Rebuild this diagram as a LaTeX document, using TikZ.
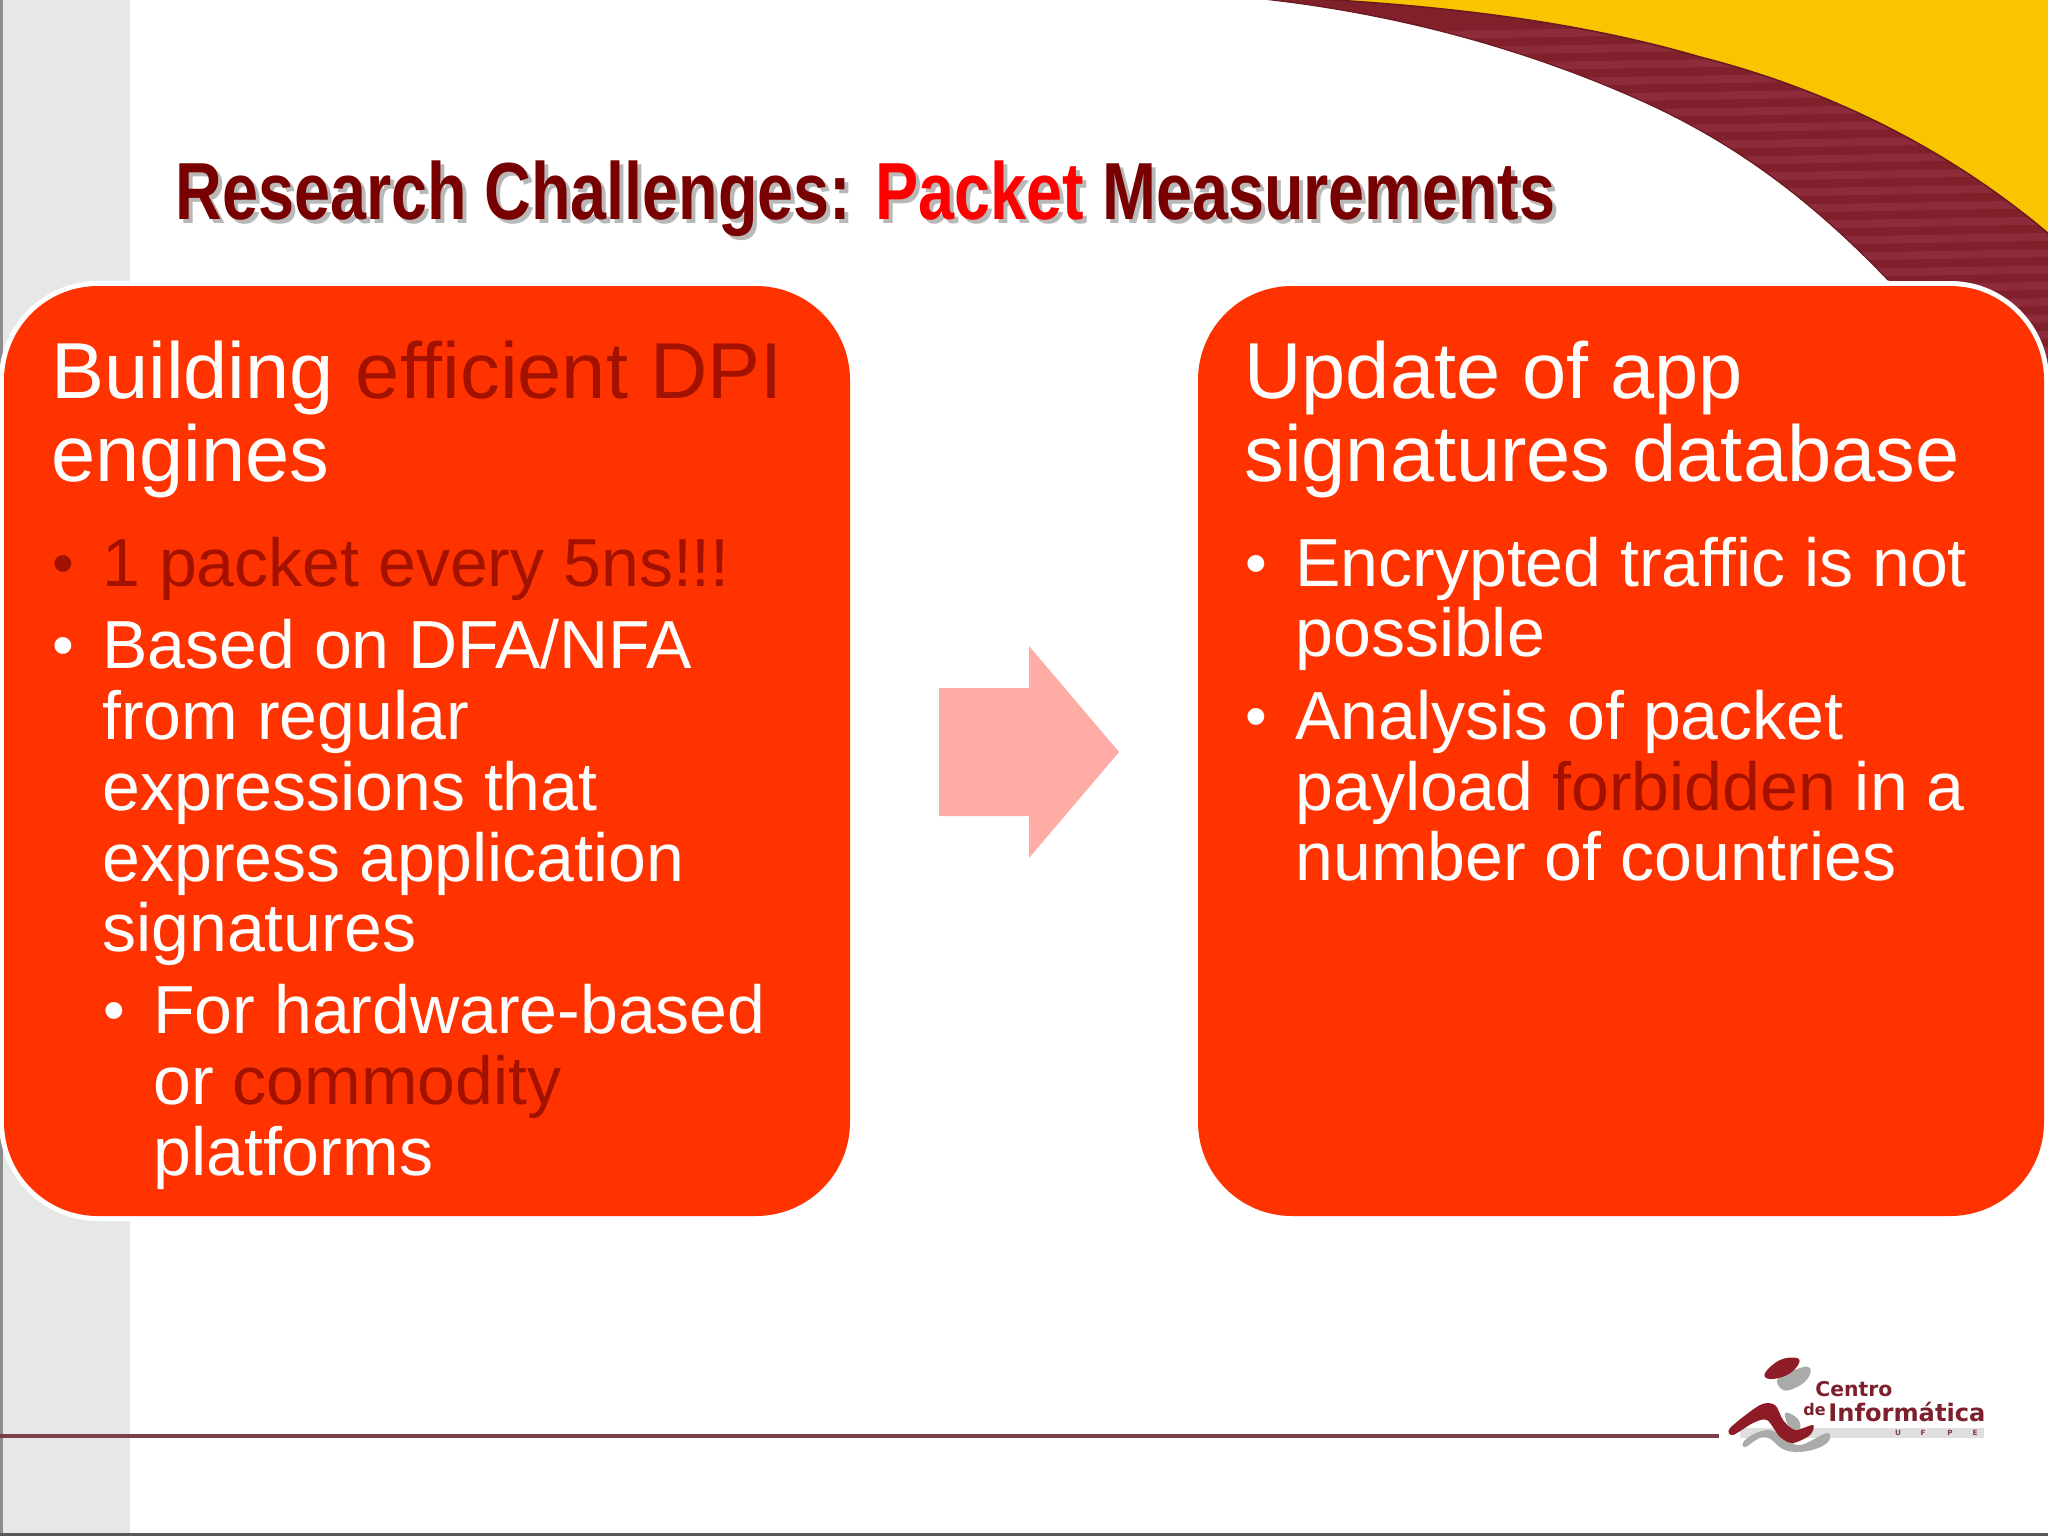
\documentclass[tikz,border=0pt]{standalone}
\usepackage{fontspec}
\usepackage{graphicx}
\setmainfont{Liberation Sans}
\newfontfamily\logofont{DejaVu Sans}
\definecolor{panelorange}{HTML}{FF3300}
\definecolor{darkaccent}{HTML}{A31200}
\definecolor{titlemaroon}{HTML}{780000}
\definecolor{titlered}{HTML}{FF0000}
\definecolor{bandgray}{HTML}{E6E7E7}
\definecolor{swooshyellow}{HTML}{F9C400}
\definecolor{swooshmaroon}{HTML}{80202A}
\definecolor{swooshstripe}{HTML}{8D2B3A}
\definecolor{swooshedge}{HTML}{6B1A22}
\definecolor{arrowpink}{HTML}{FFABA6}
\definecolor{logored}{HTML}{8E1C26}
\definecolor{logotextcol}{HTML}{7E1F2C}
\definecolor{logogray}{HTML}{A9ABA8}
\definecolor{rulecolor}{HTML}{7A3F48}
\newcommand{\acc}[1]{\textcolor{darkaccent}{#1}}
\newcommand{\smallbullet}{\fontsize{31}{36}\selectfont\raisebox{0.8pt}{•}}
\tikzset{
  panel/.style={rounded corners=47pt,minimum width=423pt,minimum height=465pt,inner sep=0pt,outer sep=0pt,
    fill=panelorange,preaction={draw=white,line width=5pt}},
  heading/.style={anchor=base west,inner sep=0pt,text=white,font=\fontsize{39.7}{47}\selectfont},
  bodyline/.style={anchor=base west,inner sep=0pt,text=white,font=\fontsize{34}{40}\selectfont},
  titletext/.style={anchor=base west,inner sep=0pt,font=\fontsize{40.5}{48}\selectfont\bfseries},
  logotext/.style={anchor=base west,inner sep=0pt,text=logotextcol,font=\logofont\bfseries\fontsize{10}{12}\selectfont},
  ufpe/.style={inner sep=0pt,text=logotextcol!70!gray,font=\logofont\bfseries\fontsize{3.6}{4}\selectfont}
}
\newcommand{\titlecontent}[2]{\resizebox{690pt}{\height}{\color{#1}Research Challenges: {\color{#2}Packet} Measurements}}
\begin{document}
\begin{tikzpicture}[x=0.5pt,y=-0.5pt]
\useasboundingbox (0,0) rectangle (2048,1536);
\fill[white] (0,0) rectangle (2048,1536);
% side band and frame
\fill[bandgray] (0,0) rectangle (130,1536);
\fill[gray!90] (0,0) rectangle (3,1536);
\fill[black!65] (0,1533) rectangle (2048,1536);
% swoosh
\fill[swooshyellow] (1300,-2) .. controls (1430,5) and (1570,19) .. (1700,57) .. controls (1830,90) and (1950,150) .. (2050,235) -- (2050,-2) -- cycle;
\begin{scope}
\clip (1254,-2) .. controls (1380,11) and (1510,43) .. (1633,97) .. controls (1720,135) and (1800,188) .. (1888,280) .. controls (1920,314) and (1945,360) .. (1960,400)
  -- (2050,400) -- (2050,235) .. controls (1950,150) and (1830,90) .. (1700,57) .. controls (1570,19) and (1430,5) .. (1300,-2) -- cycle;
\fill[swooshmaroon] (1200,-2) rectangle (2050,420);
\foreach \yy in {24,40.3,...,420}{
  \fill[swooshstripe] (1250,\yy+10) -- (2050,\yy-3) -- (2050,\yy+5) -- (1250,\yy+18) -- cycle;
}
\end{scope}
\draw[swooshedge,line width=0.8pt] (1300,-2) .. controls (1430,5) and (1570,19) .. (1700,57) .. controls (1830,90) and (1950,150) .. (2050,235);
\draw[swooshedge,line width=0.6pt] (1254,-2) .. controls (1380,11) and (1510,43) .. (1633,97) .. controls (1720,135) and (1800,188) .. (1888,280);
% title
\node[titletext,text opacity=0.28] (titleshadow) at (179,223) {\titlecontent{black}{black}};
\node[titletext] (title) at (175,219) {\titlecontent{titlemaroon}{titlered}};
% panels
\node[panel] (leftpanel) at (427,751) {};
\node[panel] (rightpanel) at (1621,751) {};
% left panel text
\node[heading] (l1) at (51,398) {Building \acc{efficient DPI}};
\node[heading] (l2) at (51,481) {engines};
\node[bodyline] (lb1) at (52,586) {\acc{\smallbullet}};
\node[bodyline] (lt1) at (102,586) {\acc{1 packet every 5ns!!!}};
\node[bodyline] (lb2) at (52,668) {\smallbullet};
\node[bodyline] (lt2) at (102,668) {Based on DFA/NFA};
\node[bodyline] (lt3) at (102,739) {from regular};
\node[bodyline] (lt4) at (102,810) {expressions that};
\node[bodyline] (lt5) at (102,881) {express application};
\node[bodyline] (lt6) at (102,951) {signatures};
\node[bodyline] (lb3) at (103,1033) {\smallbullet};
\node[bodyline] (lt7) at (153,1033) {For hardware-based};
\node[bodyline] (lt8) at (153,1104) {or \acc{commodity}};
\node[bodyline] (lt9) at (153,1175) {platforms};
% right panel text
\node[heading] (r1) at (1244,398) {Update of app};
\node[heading] (r2) at (1244,481) {signatures database};
\node[bodyline] (rb1) at (1245,586) {\smallbullet};
\node[bodyline] (rt1) at (1295,586) {Encrypted traffic is not};
\node[bodyline] (rt2) at (1295,656) {possible};
\node[bodyline] (rb2) at (1245,739) {\smallbullet};
\node[bodyline] (rt3) at (1295,739) {Analysis of packet};
\node[bodyline] (rt4) at (1295,810) {payload \acc{forbidden} in a};
\node[bodyline] (rt5) at (1295,880) {number of countries};
% arrow
\fill[arrowpink] (939,688) -- (1029,688) -- (1029,646) -- (1119,752) -- (1029,858) -- (1029,816) -- (939,816) -- cycle;
% bottom rule
\fill[rulecolor] (0,1434) rectangle (1719,1438);
% logo
\fill[gray!25] (1740,1428) rectangle (1984,1438);
\fill[logogray] plot[smooth cycle,tension=0.7] coordinates {(1778,1378) (1800,1368) (1810,1368) (1808,1378) (1797,1387) (1783,1390)};
\fill[logored] plot[smooth cycle,tension=0.7] coordinates {(1765,1373) (1780,1360) (1797,1358) (1798,1365) (1787,1375) (1770,1379)};
\fill[logogray] plot[smooth cycle,tension=0.7] coordinates {(1745,1447) (1746,1439) (1767,1430) (1785,1437) (1800,1445) (1827,1433) (1827,1443) (1807,1451) (1785,1450) (1765,1437)};
\fill[logogray] plot[smooth cycle,tension=0.7] coordinates {(1785,1413) (1797,1418) (1800,1428) (1790,1428)};
\fill[logored] plot[smooth cycle,tension=0.5] coordinates {(1730,1428) (1760,1405) (1775,1405) (1783,1420) (1795,1430) (1813,1425) (1810,1435) (1793,1443) (1780,1437) (1767,1420) (1753,1423) (1733,1435)};
\node[logotext] (centro) at (1815,1396) {\resizebox{38.5pt}{!}{Centro}};
\node[logotext,font=\logofont\bfseries\fontsize{8}{10}\selectfont] (de) at (1803,1415) {de};
\node[logotext] (info) at (1828,1421) {\resizebox{78.5pt}{!}{Informática}};
\node[ufpe] (u1) at (1898,1433) {U};
\node[ufpe] (u2) at (1923,1433) {F};
\node[ufpe] (u3) at (1950,1433) {P};
\node[ufpe] (u4) at (1975,1433) {E};
\end{tikzpicture}
\end{document}
